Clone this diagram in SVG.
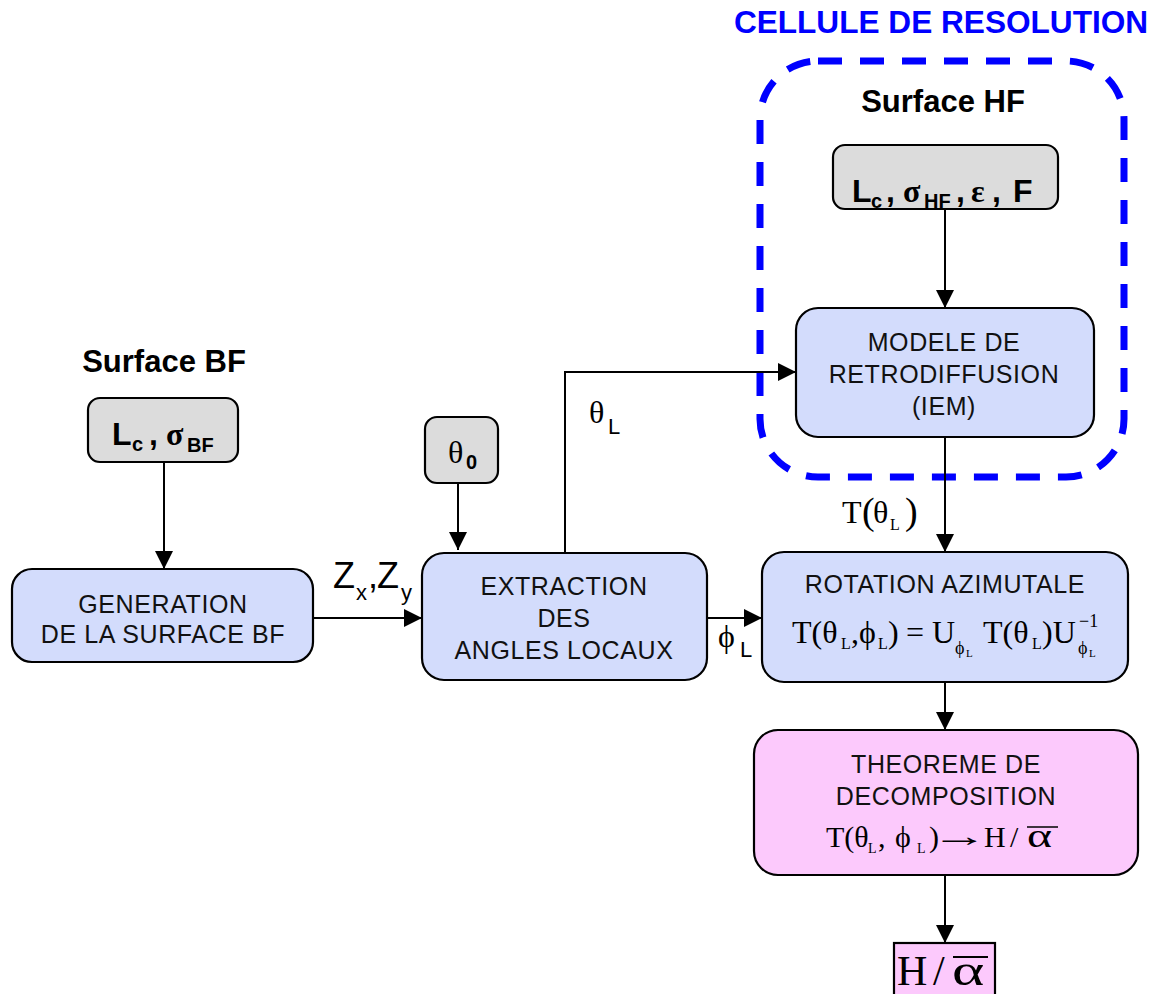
<svg xmlns="http://www.w3.org/2000/svg" width="1154" height="994" viewBox="0 0 1154 994">
<defs>
<style>
.box{stroke:#000;stroke-width:2.2}
.blue{fill:#d3dcfc}
.gray{fill:#dcdcdc}
.pink{fill:#fcc9fc}
.lbl{font-family:"Liberation Sans",Arial,sans-serif;font-size:25px;letter-spacing:0.6px;fill:#111;text-anchor:middle}
.hd{font-family:"Liberation Sans",Arial,sans-serif;font-weight:bold;font-size:31px;fill:#000;text-anchor:middle}
.sb{font-family:"Liberation Sans",Arial,sans-serif;font-weight:bold;fill:#000}
.ss{font-family:"Liberation Sans",Arial,sans-serif;fill:#000}
.sf{font-family:"Liberation Serif","DejaVu Serif","Times New Roman",serif;fill:#000}
.conn{fill:none;stroke:#000;stroke-width:2}
</style>
<marker id="ah" markerUnits="userSpaceOnUse" markerWidth="18" markerHeight="18" refX="18" refY="9" orient="auto">
<path d="M0,0 L18,9 L0,18 z" fill="#000"/>
</marker>
</defs>
<rect width="1154" height="994" fill="#fff"/>

<g id="cellule">
<rect x="760" y="61" width="364" height="416" rx="58" ry="58" fill="none" stroke="#0000ff" stroke-width="7" stroke-dasharray="24 18"/>
<text x="941" y="33" font-family="'Liberation Sans',Arial,sans-serif" font-weight="bold" font-size="31.6" fill="#0000ff" text-anchor="middle">CELLULE DE RESOLUTION</text>
</g>

<g id="surface-hf-title"><text class="hd" x="943" y="112">Surface HF</text></g>
<g id="surface-bf-title"><text class="hd" x="164" y="372">Surface BF</text></g>

<g id="param-hf">
<rect class="box gray" x="833" y="145" width="225" height="64" rx="12"/>
<text class="sb" x="852" y="202" font-size="32">L</text>
<text class="sb" x="871" y="208" font-size="20">c</text>
<text class="sb" x="886" y="202" font-size="32">,</text>
<text class="sf" x="903" y="202" font-size="32" font-weight="bold">σ</text>
<text class="sb" x="924" y="208" font-size="20">HF</text>
<text class="sb" x="956" y="202" font-size="32">,</text>
<text class="sf" x="971" y="202" font-size="32" font-weight="bold">ε</text>
<text class="sb" x="992" y="202" font-size="32">,</text>
<text class="sb" x="1013" y="202" font-size="32">F</text>
</g>

<g id="modele">
<rect class="box blue" x="796" y="308" width="298" height="129" rx="22"/>
<text class="lbl" x="944" y="351">MODELE DE</text>
<text class="lbl" x="944" y="383">RETRODIFFUSION</text>
<text class="lbl" x="944" y="415">(IEM)</text>
</g>

<g id="param-bf">
<rect class="box gray" x="88" y="398" width="150" height="64" rx="12"/>
<text class="sb" x="112" y="445" font-size="32">L</text>
<text class="sb" x="132" y="451" font-size="20">c</text>
<text class="sb" x="149" y="445" font-size="32">,</text>
<text class="sf" x="166" y="445" font-size="32" font-weight="bold">σ</text>
<text class="sb" x="187" y="452" font-size="20">BF</text>
</g>

<g id="theta0">
<rect class="box gray" x="425" y="417" width="73" height="66" rx="12"/>
<text class="sf" x="448" y="463" font-size="32">θ</text>
<text class="sb" x="466" y="469" font-size="20">0</text>
</g>

<g id="generation">
<rect class="box blue" x="12" y="569" width="301" height="93" rx="20"/>
<text class="lbl" x="163" y="613">GENERATION</text>
<text class="lbl" x="163" y="643">DE LA SURFACE BF</text>
</g>

<g id="extraction">
<rect class="box blue" x="422" y="553" width="285" height="127" rx="22"/>
<text class="lbl" x="564" y="595">EXTRACTION</text>
<text class="lbl" x="564" y="627">DES</text>
<text class="lbl" x="564" y="659">ANGLES LOCAUX</text>
</g>

<g id="rotation">
<rect class="box blue" x="762" y="552" width="366" height="130" rx="22"/>
<text class="lbl" x="945" y="593">ROTATION AZIMUTALE</text>
<text class="sf" x="792" y="643" font-size="32">T(θ</text>
<text class="sf" x="841" y="649" font-size="16">L</text>
<text class="sf" x="851" y="643" font-size="32">,ϕ</text>
<text class="sf" x="878" y="649" font-size="16">L</text>
<text class="sf" x="888" y="643" font-size="32">)</text>
<text class="sf" x="906" y="643" font-size="32">=</text>
<text class="sf" x="932" y="643" font-size="32">U</text>
<text class="sf" x="955" y="654" font-size="18">ϕ</text>
<text class="sf" x="966" y="657" font-size="11">L</text>
<text class="sf" x="983" y="643" font-size="32">T(θ</text>
<text class="sf" x="1032" y="649" font-size="16">L</text>
<text class="sf" x="1042" y="643" font-size="32">)U</text>
<text class="sf" x="1079" y="627" font-size="18">−1</text>
<text class="sf" x="1078" y="654" font-size="18">ϕ</text>
<text class="sf" x="1089" y="657" font-size="11">L</text>
</g>

<g id="theoreme">
<rect class="box pink" x="754" y="730" width="384" height="145" rx="24"/>
<text class="lbl" x="946" y="773">THEOREME DE</text>
<text class="lbl" x="946" y="805">DECOMPOSITION</text>
<text class="sf" x="826" y="847" font-size="30">T(θ</text>
<text class="sf" x="868" y="853" font-size="14">L</text>
<text class="sf" x="878" y="847" font-size="30">,</text>
<text class="sf" x="895" y="847" font-size="30">ϕ</text>
<text class="sf" x="917" y="853" font-size="14">L</text>
<text class="sf" x="929" y="847" font-size="30">)</text>
<text class="sf" font-size="30" transform="translate(931,846) scale(1.9,1)">→</text>
<text class="sf" x="984" y="847" font-size="30">H</text>
<text class="sf" x="1010" y="847" font-size="30">/</text>
<text class="sf" font-size="34" transform="translate(1027,847) scale(1.4,1)">α</text>
<line x1="1027" y1="827" x2="1058" y2="827" stroke="#000" stroke-width="1.5"/>
</g>

<g id="result">
<rect class="box pink" x="894" y="943" width="101" height="60"/>
<text class="sf" x="897" y="985" font-size="42">H</text>
<text class="sf" x="933" y="985" font-size="42">/</text>
<text class="sf" font-size="44" transform="translate(952,985) scale(1.4,1)">α</text>
<line x1="953" y1="957" x2="988" y2="957" stroke="#000" stroke-width="1.8"/>
</g>

<g id="labels">
<text class="ss" x="333" y="588" font-size="36">Z</text>
<text class="ss" x="356" y="600" font-size="22">x</text>
<text class="ss" x="368" y="588" font-size="36">,</text>
<text class="ss" x="377" y="588" font-size="36">Z</text>
<text class="ss" x="401" y="600" font-size="22">y</text>
<text class="sf" x="589" y="423" font-size="32">θ</text>
<text class="ss" x="608" y="434" font-size="22">L</text>
<text class="sf" x="718" y="647" font-size="32">ϕ</text>
<text class="ss" x="740" y="657" font-size="22">L</text>
<text class="sf" x="842" y="523" font-size="32">T</text>
<text class="sf" x="862" y="524" font-size="38">(</text>
<text class="sf" x="873" y="523" font-size="32">θ</text>
<text class="sf" x="890" y="530" font-size="16">L</text>
<text class="sf" x="905" y="524" font-size="38">)</text>
</g>

<g id="connectors">
<line class="conn" x1="164" y1="462" x2="164" y2="569" marker-end="url(#ah)"/>
<line class="conn" x1="313" y1="618" x2="422" y2="618" marker-end="url(#ah)"/>
<line class="conn" x1="458" y1="483" x2="458" y2="550" marker-end="url(#ah)"/>
<path class="conn" d="M565,553 V372 H796" marker-end="url(#ah)"/>
<line class="conn" x1="707" y1="618" x2="762" y2="618" marker-end="url(#ah)"/>
<line class="conn" x1="945" y1="209" x2="945" y2="308" marker-end="url(#ah)"/>
<line class="conn" x1="945" y1="437" x2="945" y2="552" marker-end="url(#ah)"/>
<line class="conn" x1="945" y1="682" x2="945" y2="730" marker-end="url(#ah)"/>
<line class="conn" x1="945" y1="875" x2="945" y2="943" marker-end="url(#ah)"/>
</g>
</svg>
